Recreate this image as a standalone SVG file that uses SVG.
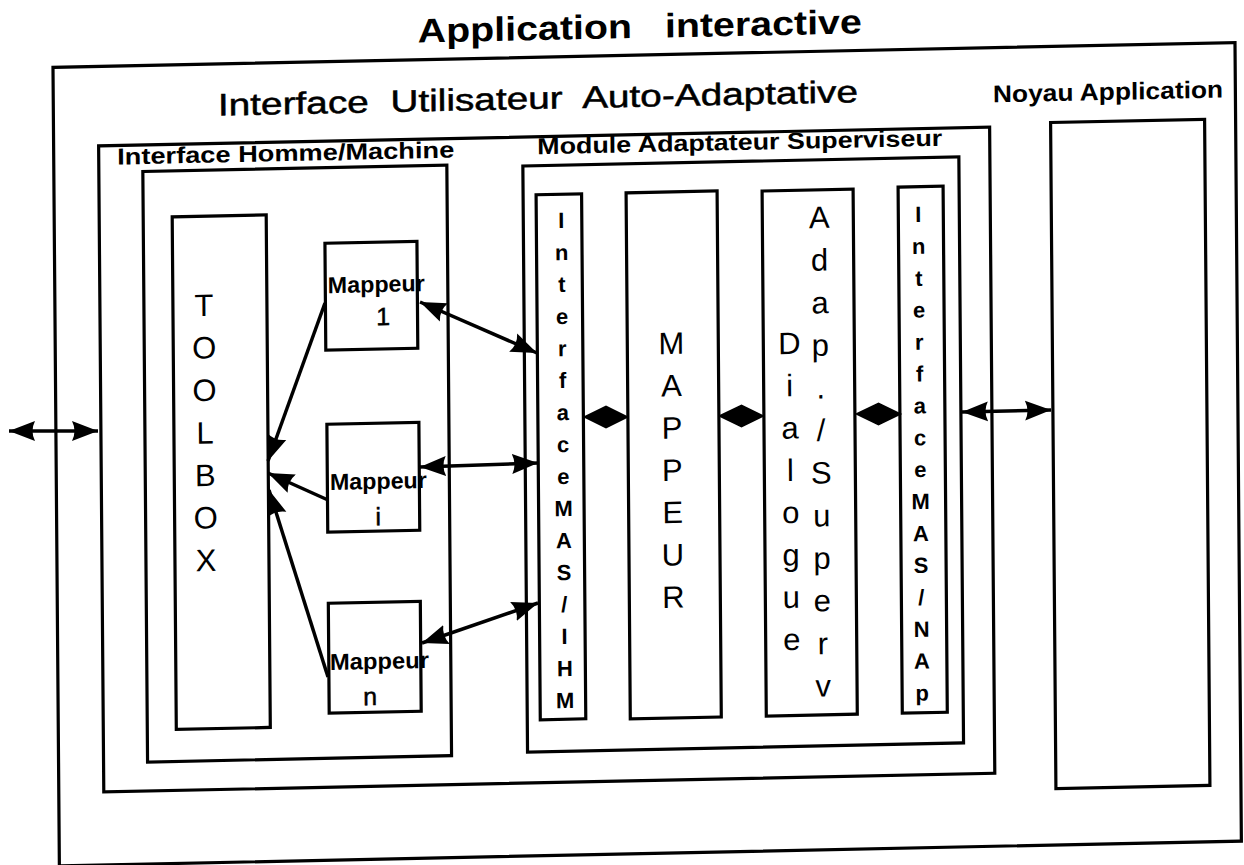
<svg xmlns="http://www.w3.org/2000/svg" width="1244" height="865" viewBox="0 0 1244 865">
<defs>
<style>
.box{fill:none;stroke:#000;stroke-width:3.2}
.lbl{font-family:"Liberation Sans",Arial,sans-serif;fill:#000}
.big{font-size:31px;stroke:#000;stroke-width:0.5}
.mid{font-size:23px;font-weight:bold}
.col{font-family:"Liberation Sans",Arial,sans-serif;font-size:31px;text-anchor:middle;fill:#000}
.colb{font-family:"Liberation Sans",Arial,sans-serif;font-size:22px;font-weight:bold;text-anchor:middle;fill:#000}
.map{font-family:"Liberation Sans",Arial,sans-serif;font-size:23px;font-weight:bold;fill:#000}
.num{font-family:"Liberation Sans",Arial,sans-serif;font-size:25px;text-anchor:middle;fill:#000;stroke:#000;stroke-width:0.5}
.cn{fill:none;stroke:#000;stroke-width:3.5}
.dia{fill:#000;stroke:#000;stroke-width:2;stroke-linejoin:miter}
</style>
<marker id="ah" viewBox="0 0 26 22" markerWidth="26" markerHeight="22" refX="26" refY="11" orient="auto-start-reverse" markerUnits="userSpaceOnUse">
<path d="M26,11 L0,1 Q5,11 0,21 Z" fill="#000"/>
</marker>
</defs>
<rect width="1244" height="865" fill="#fff"/>
<g transform="matrix(1 -0.021 0.008 1 -3.456 13.062)">
<text class="lbl" x="643" y="38.4" font-size="34" font-weight="bold" text-anchor="middle" textLength="444" lengthAdjust="spacingAndGlyphs" xml:space="preserve">Application   interactive</text>
<g id="application">
<rect class="box" x="56" y="55.5" width="1182" height="798.5"/>
</g>
<g id="interface-utilisateur">
<rect class="box" x="101" y="135" width="891" height="646"/>
<text class="lbl big" x="540.6" y="107.2" text-anchor="middle" textLength="640" lengthAdjust="spacingAndGlyphs" xml:space="preserve">Interface  Utilisateur  Auto-Adaptative</text>
</g>
<g id="noyau">
<rect class="box" x="1053" y="131.6" width="154" height="666"/>
<text class="lbl" x="1110.7" y="110.2" font-size="24" font-weight="bold" text-anchor="middle" textLength="230" lengthAdjust="spacingAndGlyphs">Noyau Application</text>
</g>
<g id="ihm">
<rect class="box" x="145" y="161.5" width="304" height="590.5"/>
<text class="lbl mid" x="288" y="154" text-anchor="middle" textLength="337" lengthAdjust="spacingAndGlyphs">Interface Homme/Machine</text>
</g>
<g id="toolbox">
<rect class="box" x="174" y="207.5" width="94" height="512.5"/>
<text class="col"><tspan x="205" y="307.2">T</tspan><tspan x="205" y="349.7">O</tspan><tspan x="205" y="392.2">O</tspan><tspan x="205" y="434.7">L</tspan><tspan x="205" y="477.2">B</tspan><tspan x="205" y="519.7">O</tspan><tspan x="205" y="562.2">X</tspan></text>
</g>
<g id="mappeur-1">
<rect class="box" x="326.5" y="237" width="92" height="107"/>
<text class="map" x="329" y="287" textLength="97" lengthAdjust="spacingAndGlyphs">Mappeur</text>
<text class="num" x="384" y="320">1</text>
</g>
<g id="mappeur-i">
<rect class="box" x="327" y="418" width="92" height="108"/>
<text class="map" x="329.5" y="483.8" textLength="97" lengthAdjust="spacingAndGlyphs">Mappeur</text>
<text class="num" x="377.5" y="520">i</text>
</g>
<g id="mappeur-n">
<rect class="box" x="327" y="597" width="92" height="110"/>
<text class="map" x="328.1" y="663.8" textLength="99" lengthAdjust="spacingAndGlyphs">Mappeur</text>
<text class="num" x="368" y="699.7">n</text>
</g>
<g id="mas">
<rect class="box" x="525" y="164" width="436" height="586"/>
<text class="lbl mid" x="742" y="152.5" text-anchor="middle" textLength="405" lengthAdjust="spacingAndGlyphs">Module Adaptateur Superviseur</text>
</g>
<g id="interface-mas-ihm">
<rect class="box" x="538" y="193" width="45.5" height="525"/>
<text class="colb"><tspan x="563" y="226.8">I</tspan><tspan x="563" y="258.8">n</tspan><tspan x="563" y="290.8">t</tspan><tspan x="563" y="322.8">e</tspan><tspan x="563" y="354.8">r</tspan><tspan x="563" y="386.8">f</tspan><tspan x="563" y="418.8">a</tspan><tspan x="563" y="450.8">c</tspan><tspan x="563" y="482.8">e</tspan><tspan x="563" y="514.8">M</tspan><tspan x="563" y="546.8">A</tspan><tspan x="563" y="578.8">S</tspan><tspan x="563" y="610.8">/</tspan><tspan x="563" y="642.8">I</tspan><tspan x="563" y="674.8">H</tspan><tspan x="563" y="706.8">M</tspan></text>
</g>
<g id="mappeur">
<rect class="box" x="628" y="193" width="91" height="526"/>
<text class="col" font-size="32"><tspan x="672" y="355">M</tspan><tspan x="672" y="397.3">A</tspan><tspan x="672" y="439.6">P</tspan><tspan x="672" y="481.9">P</tspan><tspan x="672" y="524.2">E</tspan><tspan x="672" y="566.5">U</tspan><tspan x="672" y="608.8">R</tspan></text>
</g>
<g id="dialogue-adap">
<rect class="box" x="764" y="194" width="91" height="525"/>
<text class="col"><tspan x="790" y="357.5">D</tspan><tspan x="790" y="399.8">i</tspan><tspan x="790" y="442.1">a</tspan><tspan x="790" y="484.4">l</tspan><tspan x="790" y="526.7">o</tspan><tspan x="790" y="569">g</tspan><tspan x="790" y="611.3">u</tspan><tspan x="790" y="653.6">e</tspan></text>
<text class="col"><tspan x="821" y="232.2">A</tspan><tspan x="821" y="274.8">d</tspan><tspan x="821" y="317.4">a</tspan><tspan x="821" y="360">p</tspan><tspan x="821" y="402.6">.</tspan><tspan x="821" y="445.2">/</tspan><tspan x="821" y="487.8">S</tspan><tspan x="821" y="530.4">u</tspan><tspan x="821" y="573">p</tspan><tspan x="821" y="615.6">e</tspan><tspan x="821" y="658.2">r</tspan><tspan x="821" y="700.8">v</tspan></text>
</g>
<g id="interface-mas-nap">
<rect class="box" x="900" y="193" width="45" height="526"/>
<text class="colb"><tspan x="920" y="228.3">I</tspan><tspan x="920" y="260.2">n</tspan><tspan x="920" y="292.1">t</tspan><tspan x="920" y="324">e</tspan><tspan x="920" y="355.9">r</tspan><tspan x="920" y="387.8">f</tspan><tspan x="920" y="419.7">a</tspan><tspan x="920" y="451.6">c</tspan><tspan x="920" y="483.5">e</tspan><tspan x="920" y="515.4">M</tspan><tspan x="920" y="547.3">A</tspan><tspan x="920" y="579.2">S</tspan><tspan x="920" y="611.1">/</tspan><tspan x="920" y="643">N</tspan><tspan x="920" y="674.9">A</tspan><tspan x="920" y="706.8">p</tspan></text>
</g>
</g>
<g id="connectors">
<path class="cn" d="M9,431 L98,431" marker-start="url(#ah)" marker-end="url(#ah)"/>
<path class="cn" d="M962,412 L1051,410" marker-start="url(#ah)" marker-end="url(#ah)"/>
<path class="dia" d="M585,417 L606,406.5 L627,417 L606,427.5 Z"/>
<path class="dia" d="M720,416 L741.5,405.5 L763,416 L741.5,426.5 Z"/>
<path class="dia" d="M857,414 L878.5,403.5 L900,414 L878.5,424.5 Z"/>
<path class="cn" d="M420,302 L537,353" marker-start="url(#ah)" marker-end="url(#ah)"/>
<path class="cn" d="M420,467 L538,463" marker-start="url(#ah)" marker-end="url(#ah)"/>
<path class="cn" d="M422,643 L538,603" marker-start="url(#ah)" marker-end="url(#ah)"/>
<path class="cn" d="M325,303 L268,461" marker-end="url(#ah)"/>
<path class="cn" d="M328,500 L268,473" marker-end="url(#ah)"/>
<path class="cn" d="M328,677 L269,490" marker-end="url(#ah)"/>
</g>
</svg>
